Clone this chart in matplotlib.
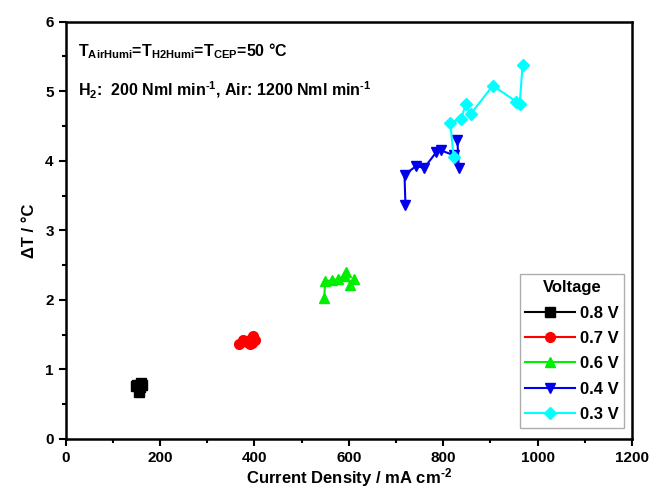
import matplotlib
matplotlib.use("Agg")
import matplotlib.pyplot as plt
from matplotlib.ticker import MultipleLocator

plt.rcParams['font.family'] = ['Liberation Sans', 'DejaVu Sans']
plt.rcParams['font.weight'] = 'bold'
plt.rcParams['axes.unicode_minus'] = False
plt.rcParams['mathtext.fontset'] = 'custom'
plt.rcParams['mathtext.rm'] = 'Liberation Sans:bold'
plt.rcParams['mathtext.it'] = 'Liberation Sans:bold'
plt.rcParams['mathtext.bf'] = 'Liberation Sans:bold'
plt.rcParams['mathtext.default'] = 'rm'

# Temperature rise vs. current density at each cell voltage
v08_x = [152, 160, 158, 155, 161, 150]
v08_y = [0.78, 0.80, 0.75, 0.68, 0.77, 0.76]

v07_x = [368, 375, 385, 392, 398, 395, 402, 390]
v07_y = [1.36, 1.42, 1.40, 1.44, 1.48, 1.38, 1.42, 1.37]

v06_x = [548, 550, 565, 578, 590, 595, 603, 612]
v06_y = [2.03, 2.27, 2.28, 2.30, 2.35, 2.40, 2.22, 2.30]

v04_x = [720, 718, 742, 760, 785, 795, 822, 833, 830]
v04_y = [3.37, 3.80, 3.92, 3.90, 4.12, 4.15, 4.08, 3.90, 4.30]

v03_x = [822, 815, 838, 848, 858, 905, 955, 962, 968]
v03_y = [4.05, 4.55, 4.60, 4.82, 4.67, 5.08, 4.85, 4.82, 5.37]

series = [
    ("0.8 V", v08_x, v08_y, "black", "s"),
    ("0.7 V", v07_x, v07_y, "red", "o"),
    ("0.6 V", v06_x, v06_y, "#00ee00", "^"),
    ("0.4 V", v04_x, v04_y, "#0000ee", "v"),
    ("0.3 V", v03_x, v03_y, "cyan", "D"),
]

fig = plt.figure(figsize=(6.55, 4.98), dpi=100)
ax = fig.add_axes([0.100, 0.1185, 0.865, 0.838])

for label, xs, ys, color, marker in series:
    ms = 6 if marker == "D" else 7
    ax.plot(xs, ys, color=color, marker=marker, markersize=ms, linewidth=1.5,
            label=label)

ax.set_xlim(0, 1200)
ax.set_ylim(0, 6)
ax.xaxis.set_major_locator(MultipleLocator(200))
ax.xaxis.set_minor_locator(MultipleLocator(100))
ax.yaxis.set_major_locator(MultipleLocator(1))
ax.yaxis.set_minor_locator(MultipleLocator(0.5))
ax.tick_params(which='both', direction='out', top=False, right=False,
               width=1.5, labelsize=11)
ax.tick_params(which='major', length=5)
ax.tick_params(which='minor', length=3)
for sp in ax.spines.values():
    sp.set_linewidth(1.8)

ax.set_xlabel("Current Density / mA cm$^{\u2010 2}$", fontsize=12, fontweight='bold',
              labelpad=1)
ax.set_ylabel("ΔT / °C", fontsize=12, fontweight='bold', labelpad=6)

ax.text(0.022, 0.93, "T$_{AirHumi}$=T$_{H2Humi}$=T$_{CEP}$=50 °C",
        transform=ax.transAxes, fontsize=11.5, fontweight='bold', va='center')
ax.text(0.022, 0.835,
        "H$_2$:  200 Nml min$^{\u20101}$, Air: 1200 Nml min$^{\u20101}$",
        transform=ax.transAxes, fontsize=11.5, fontweight='bold', va='center')

leg = ax.legend(title="Voltage", loc='lower right', bbox_to_anchor=(0.995, 0.015),
                fontsize=12, title_fontproperties={'weight': 'bold', 'size': 12},
                fancybox=False, edgecolor='#999999', handlelength=3.0,
                labelspacing=0.62, borderpad=0.35, handletextpad=0.25,
                borderaxespad=0.3)
leg.get_frame().set_linewidth(1.0)

fig.savefig("out.png", dpi=100)
